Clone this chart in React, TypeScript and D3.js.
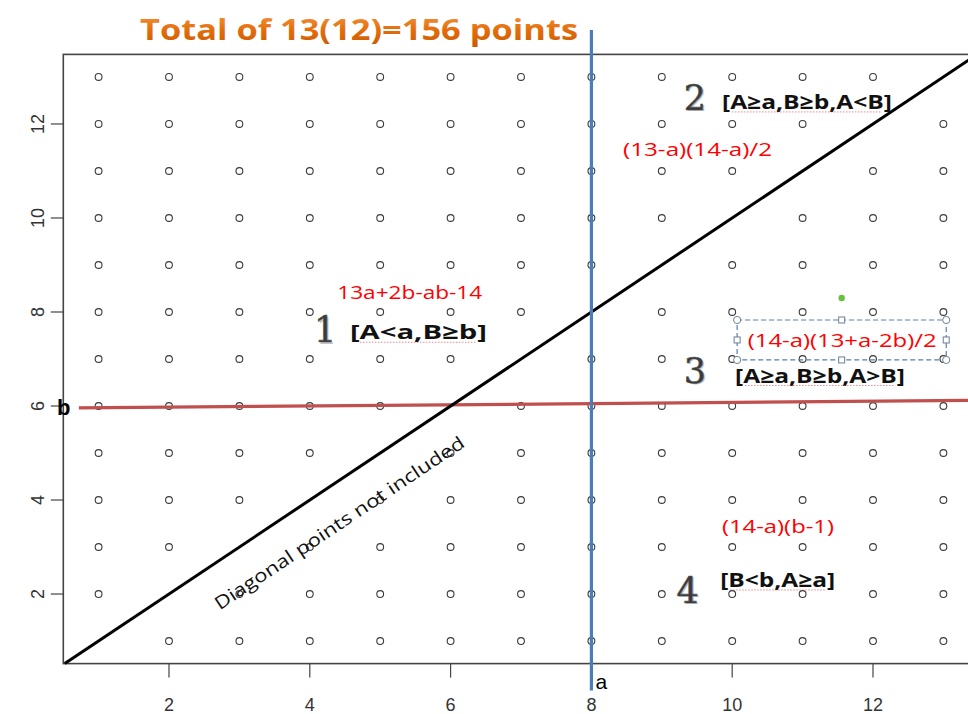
import React from "react";
import * as d3 from "d3";

// Grid of integer pairs (A, B), A ≠ B, A and B in 1..13
const gridValues = d3.range(1, 14);
const xTicks = [2, 4, 6, 8, 10, 12];
const yTicks = [2, 4, 6, 8, 10, 12];

// Reference lines
const aValue = 8;
const aLineSpan = [-0.05, 14.0];
const bLine = [
  { x: 0.72, y: 5.96 },
  { x: 13.48, y: 6.12 },
];
const diagonal = [0.52, 13.48];

// Region labels
const regionIds = [
  { id: "1", x: 4.06, y: 7.36 },
  { id: "2", x: 9.31, y: 12.3 },
  { id: "3", x: 9.31, y: 6.49 },
  { id: "4", x: 9.21, y: 1.81 },
];
const regionConditions = [
  { text: "[A<a,B≥b]", x: 4.57, y: 7.42, w: 137 },
  { text: "[A≥a,B≥b,A<B]", x: 9.855, y: 12.32, w: 170 },
  { text: "[A≥a,B≥b,A>B]", x: 10.04, y: 6.5, w: 170 },
  { text: "[B<b,A≥a]", x: 9.83, y: 2.15, w: 115 },
];
const regionCounts = [
  { text: "13a+2b-ab-14", x: 4.39, y: 8.28, w: 145 },
  { text: "(13-a)(14-a)/2", x: 8.45, y: 11.32, w: 149 },
  { text: "(14-a)(13+a-2b)/2", x: 10.22, y: 7.26, w: 189 },
  { text: "(14-a)(b-1)", x: 9.855, y: 3.3, w: 112 },
];

const W = 968;
const H = 714;

export default function App() {
  const x = d3.scaleLinear().domain([0.52, 13.48]).range([64.8, 977.2]);
  const y = d3.scaleLinear().domain([0.52, 13.48]).range([663.6, 54.4]);

  const points: { a: number; b: number }[] = [];
  gridValues.forEach((a) =>
    gridValues.forEach((b) => {
      if (a !== b) points.push({ a, b });
    })
  );

  const line = d3
    .line<{ x: number; y: number }>()
    .x((d) => x(d.x))
    .y((d) => y(d.y));

  const diagAngle =
    (Math.atan2(y(diagonal[0]) - y(diagonal[1]), x(diagonal[1]) - x(diagonal[0])) * 180) /
    Math.PI;

  // editing frame around the third count label
  const box = { x0: 10.07, x1: 13.04, y0: 7.83, y1: 6.98 };
  const bx0 = x(box.x0), bx1 = x(box.x1), by0 = y(box.y0), by1 = y(box.y1);
  const bxm = (bx0 + bx1) / 2, bym = (by0 + by1) / 2;

  const sans = "'Liberation Sans', Arial, sans-serif";
  const body = "'Open Sans', 'DejaVu Sans', sans-serif";
  const serif = "'DejaVu Serif', 'Liberation Serif', serif";

  return (
    <svg
      width={W}
      height={H}
      style={{ position: "absolute", left: 0, top: 0, background: "#fff" }}
      fontFamily={sans}
    >
      <defs>
        <linearGradient id="titleGrad" x1="0" x2="0" y1="0" y2="1">
          <stop offset="0" stopColor="#f5a04a" />
          <stop offset="0.55" stopColor="#e36c0a" />
          <stop offset="1" stopColor="#c85a00" />
        </linearGradient>
      </defs>

      {/* title */}
      <text
        x={140}
        y={40}
        fontSize={29}
        fontWeight="bold"
        fill="url(#titleGrad)"
        fontFamily={body}
        textLength={438}
        lengthAdjust="spacingAndGlyphs"
      >
        Total of 13(12)=156 points
      </text>

      {/* plot frame */}
      <rect
        x={x(0.52) - 1.5}
        y={y(13.48)}
        width={x(13.48) - x(0.52) + 1.5}
        height={y(0.52) - y(13.48)}
        fill="none"
        stroke="#444"
        strokeWidth={1.6}
      />

      {/* x axis */}
      {xTicks.map((t) => (
        <g key={"x" + t}>
          <line x1={x(t)} x2={x(t)} y1={y(0.52)} y2={y(0.52) + 14} stroke="#444" strokeWidth={1.2} />
          <text x={x(t)} y={711} textAnchor="middle" fontSize={18} fill="#333">
            {t}
          </text>
        </g>
      ))}

      {/* y axis */}
      {yTicks.map((t) => (
        <g key={"y" + t}>
          <line x1={x(0.52) - 1.5} x2={x(0.52) - 14} y1={y(t)} y2={y(t)} stroke="#444" strokeWidth={1.2} />
          <text
            transform={`translate(44,${y(t)}) rotate(-90)`}
            textAnchor="middle"
            fontSize={18}
            fill="#333"
          >
            {t}
          </text>
        </g>
      ))}

      {/* points */}
      {points.map((p) => (
        <circle
          key={p.a + "-" + p.b}
          cx={x(p.a)}
          cy={y(p.b)}
          r={3.4}
          fill="none"
          stroke="#3a3a3a"
          strokeWidth={1.1}
        />
      ))}

      {/* horizontal b line */}
      <path d={line(bLine) ?? ""} stroke="#c0504d" strokeWidth={3.2} fill="none" />

      {/* diagonal A = B */}
      <line
        x1={x(diagonal[0])}
        y1={y(diagonal[0])}
        x2={x(diagonal[1])}
        y2={y(diagonal[1])}
        stroke="#000"
        strokeWidth={3}
      />

      {/* vertical a line */}
      <line
        x1={x(aValue)}
        x2={x(aValue)}
        y1={y(aLineSpan[0])}
        y2={y(aLineSpan[1])}
        stroke="#4a7ebb"
        strokeWidth={3.2}
      />

      {/* a and b markers */}
      <text x={x(aValue) + 4} y={689} fontSize={21} fill="#000">
        a
      </text>
      <text x={57} y={415} fontSize={22} fontWeight="bold" fill="#000">
        b
      </text>

      {/* diagonal note */}
      <text
        transform={`translate(${x(4.47)},${y(3.4)}) rotate(${-diagAngle})`}
        textAnchor="middle"
        fontSize={18}
        fill="#111"
        fontFamily={body}
        textLength={296}
        lengthAdjust="spacingAndGlyphs"
      >
        Diagonal points not included
      </text>

      {/* editing frame */}
      <rect
        x={bx0}
        y={by0}
        width={bx1 - bx0}
        height={by1 - by0}
        fill="none"
        stroke="#5b7fa8"
        strokeWidth={1.2}
        strokeDasharray="5,3"
      />
      <circle cx={bxm} cy={by0 - 22} r={3.2} fill="#66c23a" />
      {[
        [bx0, by0],
        [bx1, by0],
        [bx0, by1],
        [bx1, by1],
      ].map(([cx, cy], i) => (
        <circle key={"h" + i} cx={cx} cy={cy} r={3.6} fill="#fff" stroke="#6b7f96" strokeWidth={1} />
      ))}
      {[
        [bxm, by0],
        [bxm, by1],
        [bx0, bym],
        [bx1, bym],
      ].map(([cx, cy], i) => (
        <rect
          key={"s" + i}
          x={cx - 3}
          y={cy - 3}
          width={6}
          height={6}
          fill="#fff"
          stroke="#6b7f96"
          strokeWidth={1}
        />
      ))}

      {/* region numbers */}
      {regionIds.map((r) => (
        <g key={"id" + r.id}>
          <text
            x={x(r.x) + 1.5}
            y={y(r.y) + 1.5}
            fontSize={35}
            fontFamily={serif}
            fill="#c4c4c4"
          >
            {r.id}
          </text>
          <text
            x={x(r.x)}
            y={y(r.y)}
            fontSize={35}
            fontFamily={serif}
            fill="#3a3a3a"
            stroke="#555"
            strokeWidth={0.6}
          >
            {r.id}
          </text>
        </g>
      ))}

      {/* region conditions */}
      {regionConditions.map((c) => (
        <g key={c.text}>
          <text
            x={x(c.x)}
            y={y(c.y)}
            fontSize={20}
            fontWeight="bold"
            fill="#111"
            fontFamily={body}
            textLength={c.w}
            lengthAdjust="spacingAndGlyphs"
          >
            {c.text}
          </text>
          <line
            x1={x(c.x) + 10}
            x2={x(c.x) + c.w - 10}
            y1={y(c.y) + 3}
            y2={y(c.y) + 3}
            stroke="#e03030"
            strokeWidth={0.8}
            strokeDasharray="1.5,1.5"
            opacity={0.7}
          />
        </g>
      ))}

      {/* region counts */}
      {regionCounts.map((c) => (
        <text
          key={c.text}
          x={x(c.x)}
          y={y(c.y)}
          fontSize={18}
          fill="#ff0000"
          fontFamily={body}
          textLength={c.w}
          lengthAdjust="spacingAndGlyphs"
        >
          {c.text}
        </text>
      ))}
    </svg>
  );
}
